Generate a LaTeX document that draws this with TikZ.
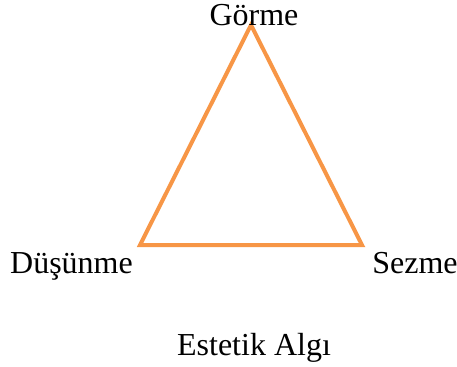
\documentclass[tikz,border=0pt]{standalone}
\usepackage{fontspec}
\setmainfont{Liberation Serif}
\usepackage{tikz}
\usetikzlibrary{positioning}
\definecolor{algiTuruncu}{RGB}{247,150,70}
\tikzset{
  etiket/.style={font=\fontsize{24}{28}\selectfont, anchor=base, inner sep=0pt},
  kenar/.style={draw=algiTuruncu, line width=3pt, line join=miter}
}
\begin{document}
\begin{tikzpicture}[x=0.75pt, y=-0.75pt]
\useasboundingbox (0,0) rectangle (457,367);
\coordinate (gorme) at (251,25);
\coordinate (dusunme) at (140,245);
\coordinate (sezme) at (362,245);
\draw[kenar] (gorme) -- (dusunme) -- (sezme) -- cycle;
\node[etiket] (gormeYazi) at (254,26) {Görme};
\node[etiket] (dusunmeYazi) at (71.5,273) {Düşünme};
\node[etiket] (sezmeYazi) at (415,273) {Sezme};
\node[etiket] (estetik) at (254,355) {Estetik Algı};
\end{tikzpicture}
\end{document}
